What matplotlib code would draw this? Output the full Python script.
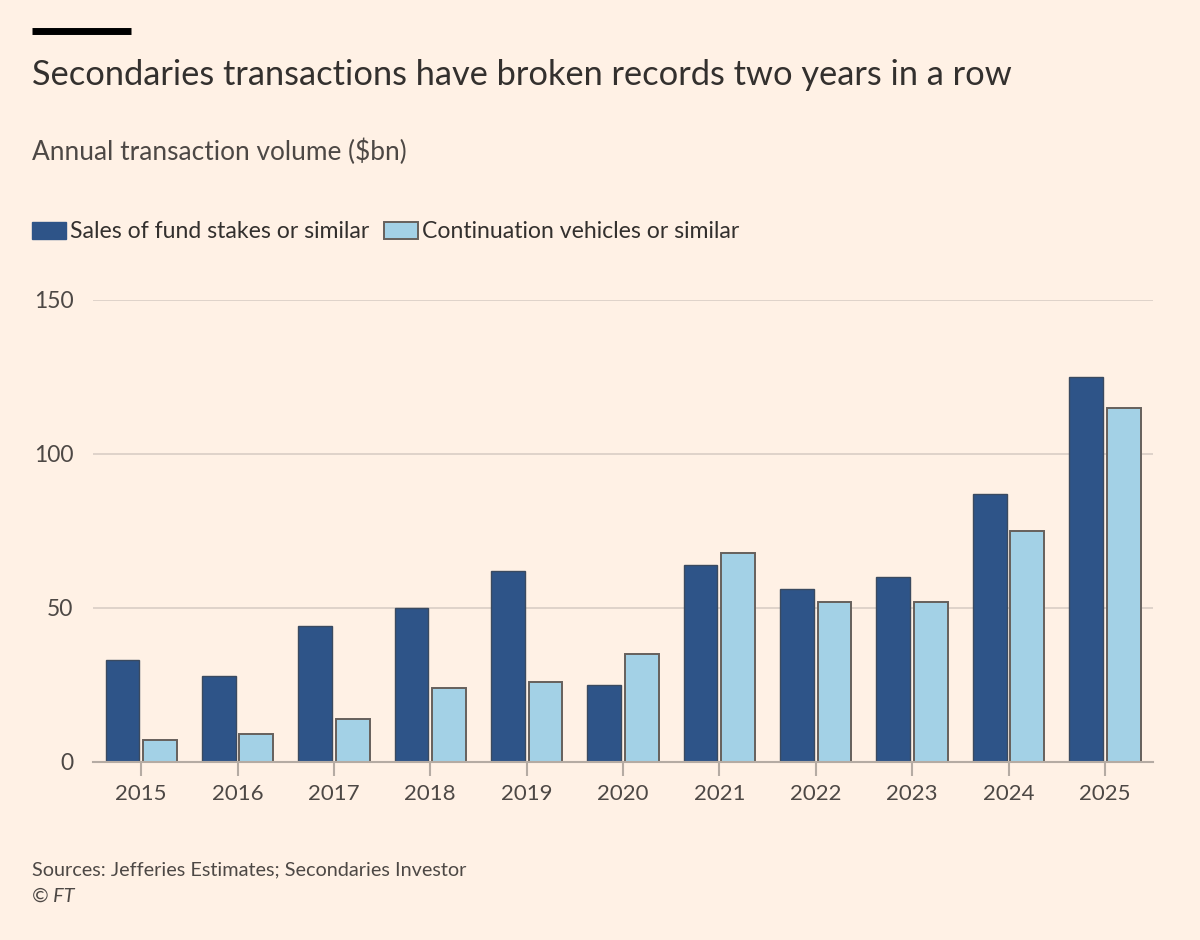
import numpy as np
import matplotlib
matplotlib.use("Agg")
import matplotlib.pyplot as plt
from matplotlib.patches import Patch

# data ($bn)
years = ["2015", "2016", "2017", "2018", "2019", "2020", "2021", "2022", "2023", "2024", "2025"]
fund_stakes = [33, 28, 44, 50, 62, 25, 64, 56, 60, 87, 125]
continuation = [7, 9, 14, 24, 26, 35, 68, 52, 52, 75, 115]
series_names = ["Sales of fund stakes or similar", "Continuation vehicles or similar"]
yticks = [0, 50, 100, 150]

bg = "#FFF1E5"
dark = "#2E5488"
light = "#A3D1E6"
edge = "#66605C"
text_dark = "#33302E"
text_mid = "#4D4845"

plt.rcParams["font.family"] = ["Lato", "DejaVu Sans"]

fig = plt.figure(figsize=(12, 9.4), dpi=100, facecolor=bg)
ax = fig.add_axes([0.0775, 0.1894, 0.8834, 0.4915], facecolor=bg)

x = np.arange(len(years))
w = 0.35
off = 0.195
ax.bar(x - off, fund_stakes, width=w, color=dark, edgecolor="#3A4A60", linewidth=1.0, zorder=3)
ax.bar(x + off, continuation, width=w, color=light, edgecolor=edge, linewidth=1.4, zorder=3)

ax.set_xlim(-0.5, len(years) - 0.5)
ax.set_ylim(0, 150)
ax.set_yticks(yticks)
ax.set_yticklabels([str(t) for t in yticks])
ax.set_xticks(x)
ax.set_xticklabels(years)

for s in ["top", "right", "left"]:
    ax.spines[s].set_visible(False)
ax.spines["bottom"].set_color("#B5ABA3")
ax.spines["bottom"].set_linewidth(1.5)
ax.spines["bottom"].set_zorder(4)

ax.grid(axis="y", color="#D9CEC5", linewidth=1.2, zorder=0)
ax.tick_params(axis="y", length=0, pad=14, labelsize=16.5, labelcolor=text_mid)
ax.tick_params(axis="x", length=10, width=1.5, color="#B5ABA3", pad=6,
               labelsize=16, labelcolor=text_mid)

# header
fig.add_artist(plt.Line2D([32 / 1200, 131 / 1200], [1 - 31 / 940, 1 - 31 / 940],
                          color="black", linewidth=5, solid_capstyle="butt"))
fig.text(32 / 1200, 1 - 75 / 940, "Secondaries transactions have broken records two years in a row",
         fontsize=24.75, color=text_dark, va="center", ha="left")
fig.text(32 / 1200, 1 - 152 / 940, "Annual transaction volume ($bn)",
         fontsize=18.9, color=text_mid, va="center", ha="left")

handles = [Patch(facecolor=dark, edgecolor=dark, linewidth=1.0),
           Patch(facecolor=light, edgecolor=edge, linewidth=1.4)]
fig.legend(handles, series_names, loc="center left",
           bbox_to_anchor=(32 / 1200, 1 - 232 / 940), ncol=2, frameon=False,
           fontsize=16.6, handlelength=1.48, handleheight=0.7, handletextpad=0.17,
           columnspacing=0.65, borderpad=0, borderaxespad=0, labelcolor=text_dark)

fig.text(32 / 1200, 1 - 870 / 940, "Sources: Jefferies Estimates; Secondaries Investor",
         fontsize=14.3, color=text_mid, va="center", ha="left")
fig.text(32 / 1200, 1 - 896 / 940, "© FT", fontsize=14.3, color=text_mid,
         va="center", ha="left", style="italic")

fig.savefig("out.png", dpi=100, facecolor=bg)
